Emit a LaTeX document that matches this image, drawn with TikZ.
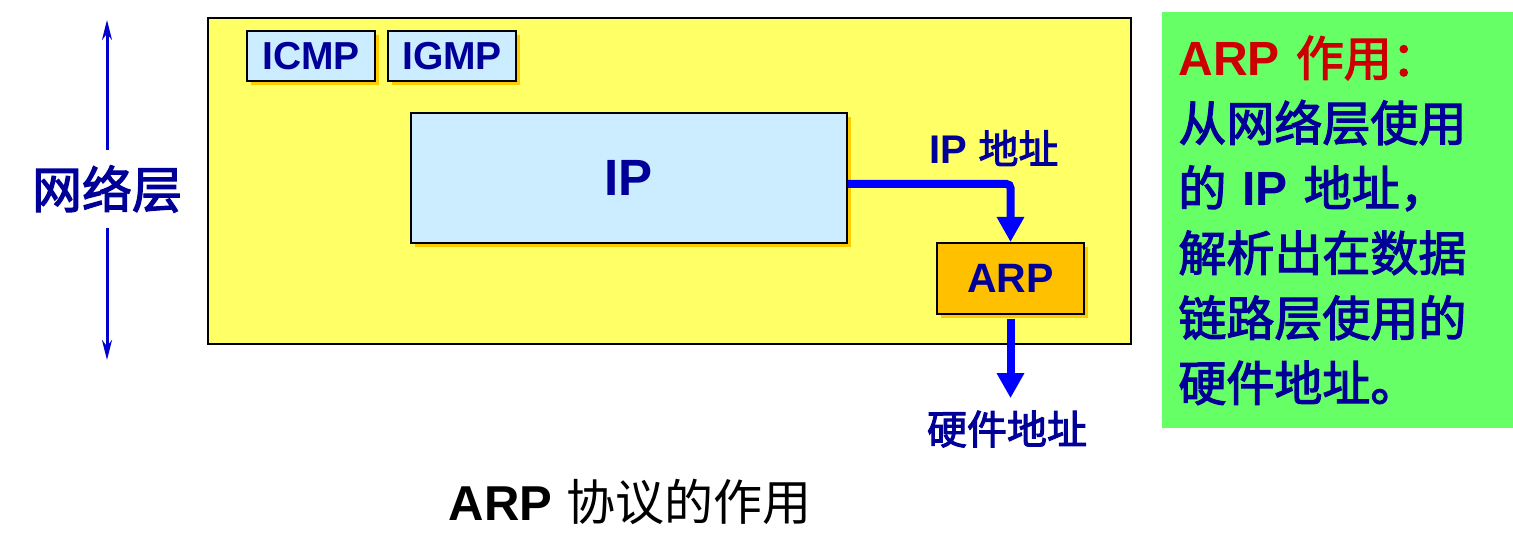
\documentclass[tikz,border=0pt]{standalone}
\usepackage{fontspec}
\setmainfont{Liberation Sans}
\newfontfamily\cjk{Noto Sans CJK SC}
\newfontfamily\cjkb{Noto Sans CJK SC}[FakeBold=2.5]
\newcommand\zh[1]{{\cjkb\mdseries #1}}
\usetikzlibrary{arrows.meta,shadows}
\definecolor{layeryellow}{HTML}{FFFF66}
\definecolor{ipblue}{HTML}{CCECFF}
\definecolor{shadowyellow}{HTML}{FFCC00}
\definecolor{arpfill}{HTML}{FFC000}
\definecolor{greenbox}{HTML}{66FF66}
\definecolor{navy}{HTML}{000099}
\definecolor{arrowblue}{HTML}{0000FF}
\definecolor{layerblue}{HTML}{0000CC}
\definecolor{redtxt}{HTML}{CC0000}
\begin{document}
\begin{tikzpicture}[x=0.5pt,y=-0.5pt,
  box/.style={draw=black,line width=1pt,text=navy,inner sep=0pt,
    drop shadow={shadow xshift=2pt,shadow yshift=-2pt,fill=shadowyellow,opacity=1}},
  fat/.style={draw=arrowblue,line width=4pt,-{Triangle[width=13pt,length=12.5pt]}},
  lay/.style={draw=layerblue,line width=1.5pt,-{Stealth[width=5pt,length=10pt]}}]
\useasboundingbox (0,0) rectangle (1513,560);
% network layer frame
\node[draw,line width=1pt,fill=layeryellow,minimum width=461.5pt,minimum height=163pt] (layer) at (669.5,181) {};
\node[box,fill=ipblue,minimum width=64pt,minimum height=25pt,font=\bfseries\fontsize{19.5pt}{22pt}\selectfont] (icmp) at (311,56) {ICMP};
\node[box,fill=ipblue,minimum width=64pt,minimum height=25pt,font=\bfseries\fontsize{19.5pt}{22pt}\selectfont] (igmp) at (452,56) {IGMP};
\node[box,fill=ipblue,minimum width=218pt,minimum height=65pt,font=\bfseries\fontsize{25.5pt}{28pt}\selectfont] (ip) at (628.5,178) {IP};
\node[box,fill=arpfill,minimum width=73.5pt,minimum height=35.5pt,font=\bfseries\fontsize{20.5pt}{22pt}\selectfont] (arp) at (1010.5,278.5) {ARP};
\node[text=navy,font=\bfseries\fontsize{20pt}{22pt}\selectfont] (ipaddr) at (994,148) {IP \zh{地址}};
\node[text=navy,inner ysep=6pt,font=\fontsize{20pt}{22pt}\selectfont] (hw) at (1007,429) {\zh{硬件地址}};
\draw[fat,rounded corners=2pt] ([yshift=-3pt]ip.east) -| (arp.north);
\draw[fat] ([yshift=-2pt]arp.south) -- (arp.south |- hw.north);
% left label
\node[text=navy,inner sep=0pt,minimum height=38.5pt,font=\fontsize{25pt}{28pt}\selectfont] (net) at (107,189) {\zh{网络层}};
\coordinate (ltop) at (107,20);
\coordinate (lbot) at (107,360);
\draw[lay] (net.north) -- (ltop);
\draw[lay] (net.south) -- (lbot);
% note
\node[fill=greenbox,anchor=north west,minimum width=175.5pt,minimum height=208pt,text width=159.5pt,inner xsep=8pt,align=left,text=navy,font=\bfseries\fontsize{24pt}{32.5pt}\selectfont] (role) at (1162,12)
  {{\color{redtxt}ARP \zh{作用：}}\\\zh{从网络层使用}\\\zh{的} IP \zh{地址，}\\\zh{解析出在数据}\\\zh{链路层使用的}\\\zh{硬件地址。}};
\node[font=\fontsize{24.5pt}{28pt}\selectfont] (cap) at (630,502) {{\bfseries ARP} {\cjk 协议的作用}};
\end{tikzpicture}
\end{document}
